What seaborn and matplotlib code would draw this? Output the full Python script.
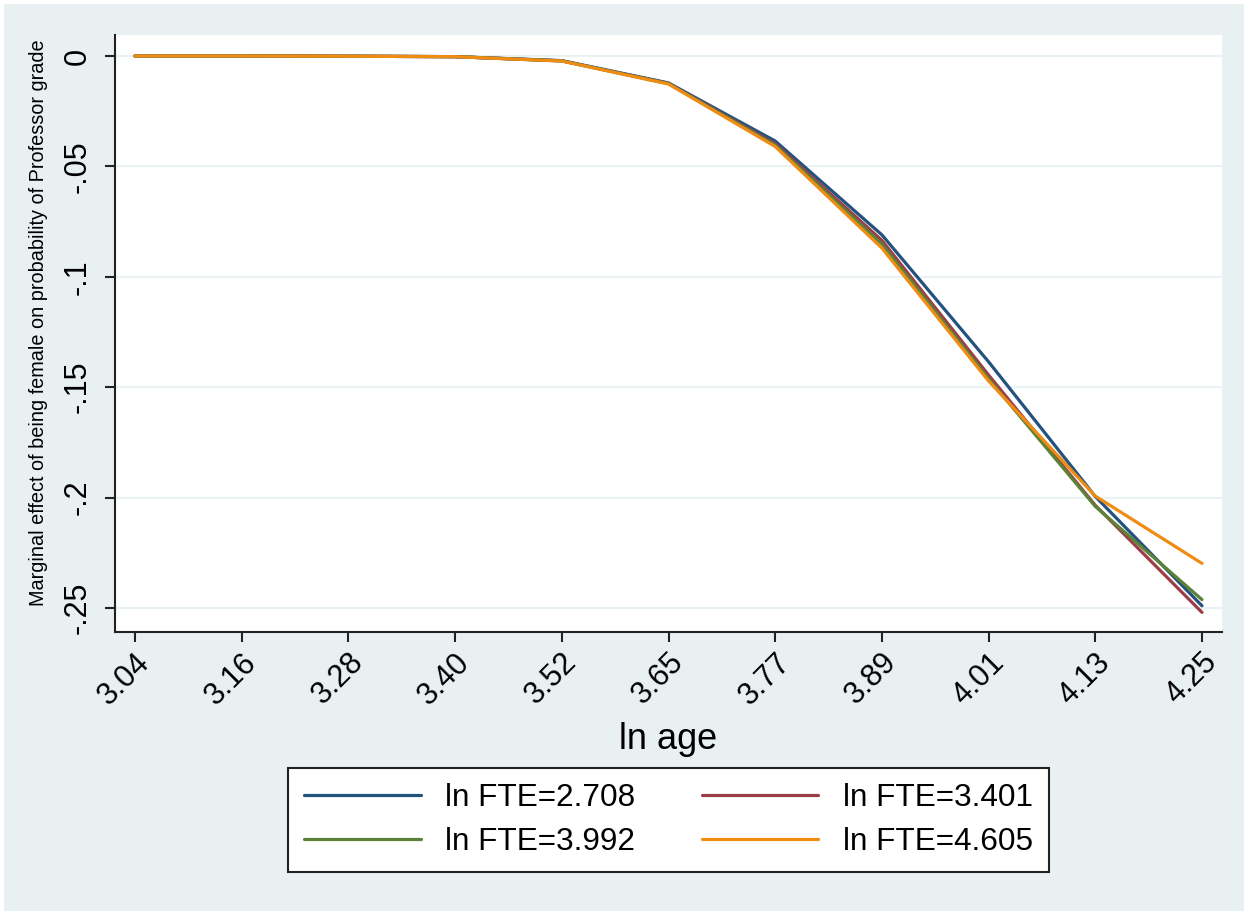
import numpy as np
import pandas as pd
import matplotlib
matplotlib.use("Agg")
import matplotlib.pyplot as plt
import seaborn as sns
from matplotlib.patches import Rectangle

# ln(age) evaluation points (labels as shown on the axis)
age_labels = ["3.04", "3.16", "3.28", "3.40", "3.52", "3.65", "3.77", "3.89", "4.01", "4.13", "4.25"]

# Marginal effect of being female for each ln FTE level
me_fte_2708 = [0.0, 0.0, -0.0001, -0.0003, -0.0021, -0.0122, -0.0385, -0.0810, -0.1385, -0.1995, -0.2490]
me_fte_3401 = [0.0, 0.0, -0.0001, -0.0003, -0.0022, -0.0124, -0.0398, -0.0835, -0.1445, -0.2035, -0.2520]
me_fte_3992 = [0.0, 0.0, -0.0001, -0.0003, -0.0022, -0.0125, -0.0404, -0.0852, -0.1462, -0.2040, -0.2462]
me_fte_4605 = [0.0, 0.0, -0.0001, -0.0003, -0.0023, -0.0127, -0.0410, -0.0870, -0.1472, -0.1993, -0.2298]

series_labels = ["ln FTE=2.708", "ln FTE=3.401", "ln FTE=3.992", "ln FTE=4.605"]
series_values = [me_fte_2708, me_fte_3401, me_fte_3992, me_fte_4605]
palette = ["#24527f", "#9b3e47", "#5b8237", "#ee8c14"]

yticks = [0, -0.05, -0.1, -0.15, -0.2, -0.25]
ytick_labels = ["0", "-.05", "-.1", "-.15", "-.2", "-.25"]

pos = list(range(len(age_labels)))
df = pd.concat(
    [pd.DataFrame({"pos": pos, "me": vals, "series": lab})
     for lab, vals in zip(series_labels, series_values)],
    ignore_index=True,
)

sns.set_theme(style="white")
plt.rcParams["font.family"] = ["Liberation Sans", "DejaVu Sans"]
plt.rcParams["text.color"] = "black"
plt.rcParams["xtick.color"] = "black"
plt.rcParams["ytick.color"] = "black"
plt.rcParams["axes.labelcolor"] = "black"

bg = "#e8f0f2"
fig = plt.figure(figsize=(12.48, 9.11), dpi=100, facecolor="white")
fig.patches.append(Rectangle((4 / 1248, 0), 1 - 8 / 1248, 1 - 4 / 911,
                             transform=fig.transFigure, facecolor=bg,
                             edgecolor="none", zorder=-10))

ax = fig.add_axes([115 / 1248, 1 - 632 / 911, (1222 - 115) / 1248, (632 - 35) / 911])
ax.set_facecolor("white")

for yv in yticks:
    ax.axhline(yv, color="#eaf2f3", lw=1.6, zorder=0)

sns.lineplot(data=df, x="pos", y="me", hue="series", hue_order=series_labels,
             palette=palette, linewidth=2.3, ax=ax, legend=False, zorder=3)

ax.set_xlim(-0.1875, 10.1875)
ax.set_ylim(-0.26087, 0.00951)
ax.set_xticks(pos)
ax.set_xticklabels(age_labels, rotation=45, ha="right", rotation_mode="anchor", fontsize=22)
ax.set_yticks(yticks)
ax.set_yticklabels(ytick_labels, rotation=90, va="center", fontsize=22)
ax.tick_params(axis="both", direction="out", length=7, width=1.5, color="#222222",
               bottom=True, left=True)
ax.tick_params(axis="x", pad=4)
ax.tick_params(axis="y", pad=9)

for side in ["top", "right"]:
    ax.spines[side].set_visible(False)
for side in ["left", "bottom"]:
    ax.spines[side].set_color("#222222")
    ax.spines[side].set_linewidth(1.5)

ax.set_xlabel("ln age", fontsize=26, labelpad=8)
ax.set_ylabel("Marginal effect of being female on probability of Professor grade",
              fontsize=14.3)
ax.yaxis.set_label_coords(-0.0605, 0.518)

# row-wise legend order: matplotlib fills columns first
order = [0, 2, 1, 3]
handles = [plt.Line2D([], [], color=palette[i], lw=2.3) for i in order]
labels = [series_labels[i] for i in order]
leg = fig.legend(handles, labels, ncol=2, loc="center",
                 bbox_to_anchor=((296 + 1041) / 2 / 1248, 1 - 820 / 911),
                 fontsize=22.7, frameon=True, fancybox=False, handlelength=3.7,
                 columnspacing=2.1, handletextpad=0.78, borderpad=0.5,
                 labelspacing=0.42)
leg.get_frame().set_edgecolor("#222222")
leg.get_frame().set_linewidth(1.5)
leg.get_frame().set_facecolor("white")
leg.get_frame().set_alpha(1)

fig.savefig("out.png", dpi=100, facecolor=fig.get_facecolor())
